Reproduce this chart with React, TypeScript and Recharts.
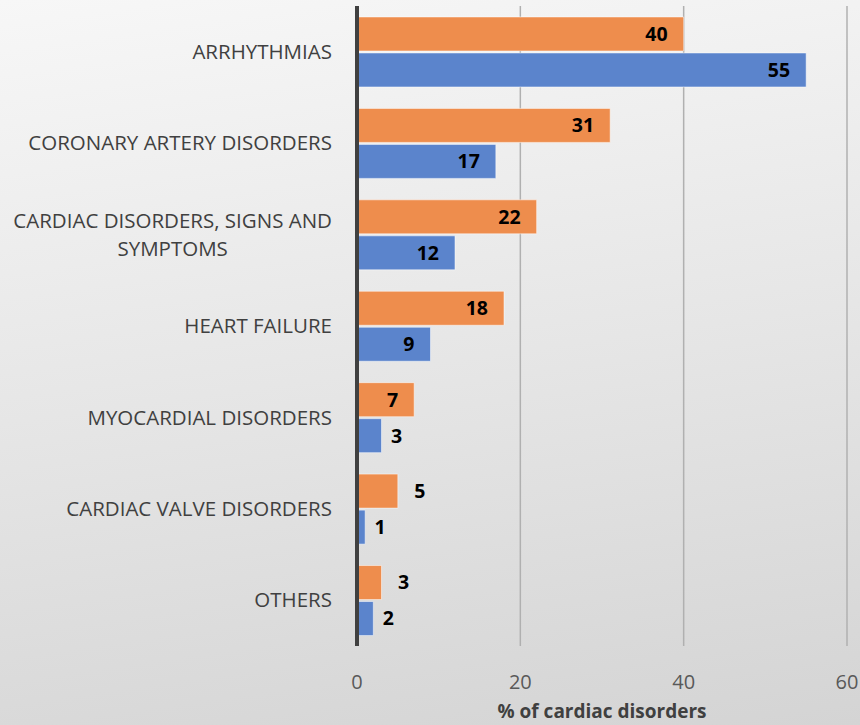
import { BarChart, Bar, XAxis, YAxis, CartesianGrid, LabelList } from 'recharts'

const categories = [
  'ARRHYTHMIAS',
  'CORONARY ARTERY DISORDERS',
  'CARDIAC DISORDERS, SIGNS AND SYMPTOMS',
  'HEART FAILURE',
  'MYOCARDIAL DISORDERS',
  'CARDIAC VALVE DISORDERS',
  'OTHERS',
]
const seriesA = [40, 31, 22, 18, 7, 5, 3]
const seriesB = [55, 17, 12, 9, 3, 1, 2]
const xTicks = [0, 20, 40, 60]

const FONT = '"Open Sans", sans-serif'
const ORANGE = '#EE8D4D'
const BLUE = '#5B84CC'
const CAT_SIZE = 20.5

const chartData = categories.map((name, i) => ({
  name,
  a: seriesA[i],
  b: seriesB[i],
}))

// split long category names onto lines of at most 28 characters
function wrap(text: string, max = 28) {
  const lines: string[] = []
  let cur = ''
  for (const word of text.split(' ')) {
    const next = cur ? cur + ' ' + word : word
    if (next.length > max && cur) {
      lines.push(cur)
      cur = word
    } else {
      cur = next
    }
  }
  if (cur) lines.push(cur)
  return lines
}

let measureCtx: CanvasRenderingContext2D | null = null
function textWidth(text: string, font: string) {
  if (!measureCtx) measureCtx = document.createElement('canvas').getContext('2d')
  if (!measureCtx) return text.length * 11
  measureCtx.font = font
  return measureCtx.measureText(text).width
}

function CategoryTick(props: any) {
  const { x, y, payload } = props
  const lines = wrap(payload.value)
  const font = `${CAT_SIZE}px ${FONT}`
  const lineH = 28
  if (lines.length === 1) {
    return (
      <text x={x} y={y} dy="0.35em" textAnchor="end" fill="#404040" fontSize={CAT_SIZE} fontFamily={FONT}>
        {lines[0]}
      </text>
    )
  }
  const blockW = Math.max(...lines.map((l) => textWidth(l, font)))
  const cx = x - blockW / 2
  const top = y - ((lines.length - 1) * lineH) / 2
  return (
    <text textAnchor="middle" fill="#404040" fontSize={CAT_SIZE} fontFamily={FONT}>
      {lines.map((l, i) => (
        <tspan key={i} x={cx} y={top + i * lineH} dy="0.35em">
          {l}
        </tspan>
      ))}
    </text>
  )
}

function ValueTick(props: any) {
  const { x, y, payload } = props
  return (
    <text x={x} y={y + 28} dy="0.35em" textAnchor="middle" fill="#595959" fontSize={20} fontFamily={FONT}>
      {payload.value}
    </text>
  )
}

// value label: inside the bar end when it fits, otherwise just past it
function makeValueLabel(outsideOffset: number) {
  return (props: any) => {
    const { x, y, width, height, value } = props
    const inside = width > 50
    return (
      <text
        x={inside ? x + width - 16 : x + width + outsideOffset}
        y={y + height / 2}
        dy="0.35em"
        textAnchor={inside ? 'end' : 'middle'}
        fill="#000"
        fontSize={19.5}
        fontWeight="bold"
        fontFamily={FONT}
      >
        {value}
      </text>
    )
  }
}

export default function App() {
  return (
    <div
      style={{
        position: 'absolute',
        left: 0,
        top: 0,
        width: 860,
        height: 725,
        background: 'linear-gradient(172deg, #f7f7f7 0%, #e6e6e6 50%, #d4d4d4 100%)',
      }}
    >
      <BarChart
        width={860}
        height={725}
        data={chartData}
        layout="vertical"
        margin={{ top: 6, right: 13, bottom: 0, left: 0 }}
        barCategoryGap="12%"
        barGap={2}
      >
        <CartesianGrid horizontal={false} stroke="#b0b0b0" strokeWidth={1.5} />
        <XAxis
          type="number"
          domain={[0, 60]}
          ticks={xTicks}
          axisLine={false}
          tickLine={false}
          height={79}
          tick={<ValueTick />}
          label={{
            value: '% of cardiac disorders',
            position: 'insideBottom',
            offset: 7,
            fill: '#404040',
            fontSize: 19,
            fontWeight: 'bold',
            fontFamily: FONT,
          }}
        />
        <YAxis
          type="category"
          dataKey="name"
          width={357}
          axisLine={{ stroke: '#404040', strokeWidth: 4 }}
          tickLine={false}
          tickSize={0}
          tickMargin={25}
          interval={0}
          tick={<CategoryTick />}
        />
        <Bar dataKey="a" fill={ORANGE} stroke="#ffffff" strokeOpacity={0.5} strokeWidth={1} isAnimationActive={false}>
          <LabelList dataKey="a" content={makeValueLabel(22)} />
        </Bar>
        <Bar dataKey="b" fill={BLUE} stroke="#ffffff" strokeOpacity={0.5} strokeWidth={1} isAnimationActive={false}>
          <LabelList dataKey="b" content={makeValueLabel(15)} />
        </Bar>
      </BarChart>
    </div>
  )
}
